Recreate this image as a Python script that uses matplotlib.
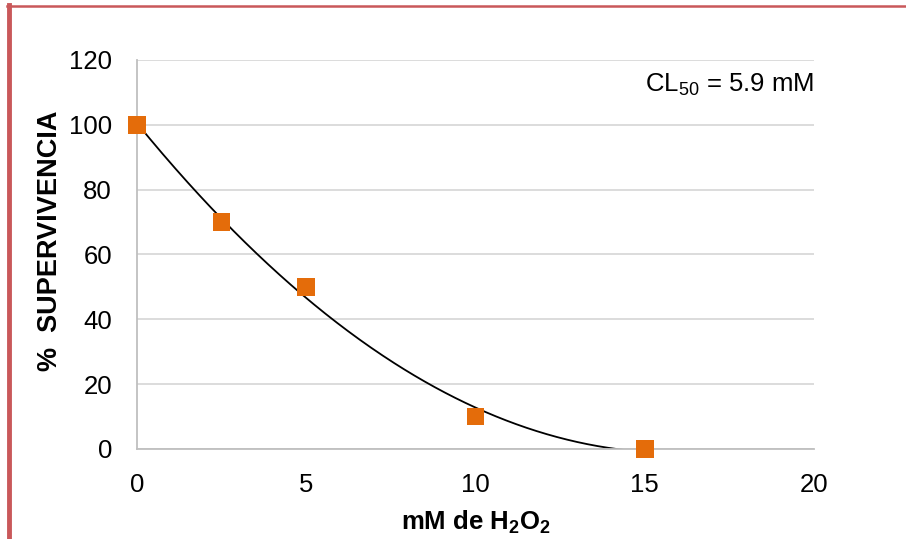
import numpy as np
import matplotlib
matplotlib.use("Agg")
import matplotlib.pyplot as plt
from matplotlib.lines import Line2D

plt.rcParams["font.family"] = ["Liberation Sans", "DejaVu Sans"]
plt.rcParams["mathtext.fontset"] = "custom"
plt.rcParams["mathtext.rm"] = "Liberation Sans"
plt.rcParams["mathtext.bf"] = "Liberation Sans:bold"

# Survival vs. H2O2 concentration
conc_mM = [0, 2.5, 5, 10, 15]
survival_pct = [100, 70, 50, 10, 0]
x_ticks = [0, 5, 10, 15, 20]
y_ticks = [0, 20, 40, 60, 80, 100, 120]
lc50_label = "CL$_{50}$ = 5.9 mM"

ORANGE = "#e46c0a"
BORDER = "#c9585a"
FS = 18.5

fig = plt.figure(figsize=(9.06, 5.39), dpi=100)
ax = fig.add_axes([137 / 906, 1 - 449 / 539, (814 - 137) / 906, (449 - 60) / 539])

# second-order polynomial trend line
coef = np.polyfit(conc_mM, survival_pct, 2)
xs = np.linspace(0, 15, 400)
ax.plot(xs, np.polyval(coef, xs), color="black", lw=1.3, zorder=2)

ax.scatter(conc_mM, survival_pct, marker="s", s=160, color=ORANGE,
           edgecolors="none", zorder=3, clip_on=False)

ax.set_xlim(0, 20)
ax.set_ylim(0, 120)
ax.set_xticks(x_ticks)
ax.set_yticks(y_ticks)
ax.tick_params(length=0, labelsize=FS)
ax.tick_params(axis="x", pad=17)
ax.tick_params(axis="y", pad=18)
ax.grid(axis="y", color="#d9d9d9", lw=1.3)
ax.set_axisbelow(True)
for side in ["top", "right"]:
    ax.spines[side].set_visible(False)
for side in ["left", "bottom"]:
    ax.spines[side].set_color("#bfbfbf")
    ax.spines[side].set_linewidth(1.3)

ax.set_xlabel(r"mM de H$_\mathbf{2}$O$_\mathbf{2}$", fontsize=FS, fontweight="bold",
              va="center")
ax.xaxis.set_label_coords(0.5, -(522 - 449) / 389)
ax.set_ylabel("%  SUPERVIVENCIA", fontsize=19.5, fontweight="bold", va="center")
ax.yaxis.set_label_coords((50 - 137) / 677, 0.535)

ax.text(20, 112.5, lc50_label, fontsize=FS, ha="right", va="center")

# frame around the figure
fig.add_artist(Line2D([8.5 / 906, 8.5 / 906], [0, 1 - 5 / 539],
                      transform=fig.transFigure, color=BORDER, lw=3.5))
fig.add_artist(Line2D([6.5 / 906, 1], [1 - 6 / 539, 1 - 6 / 539],
                      transform=fig.transFigure, color=BORDER, lw=1.8))

fig.savefig("out.png", dpi=100)
